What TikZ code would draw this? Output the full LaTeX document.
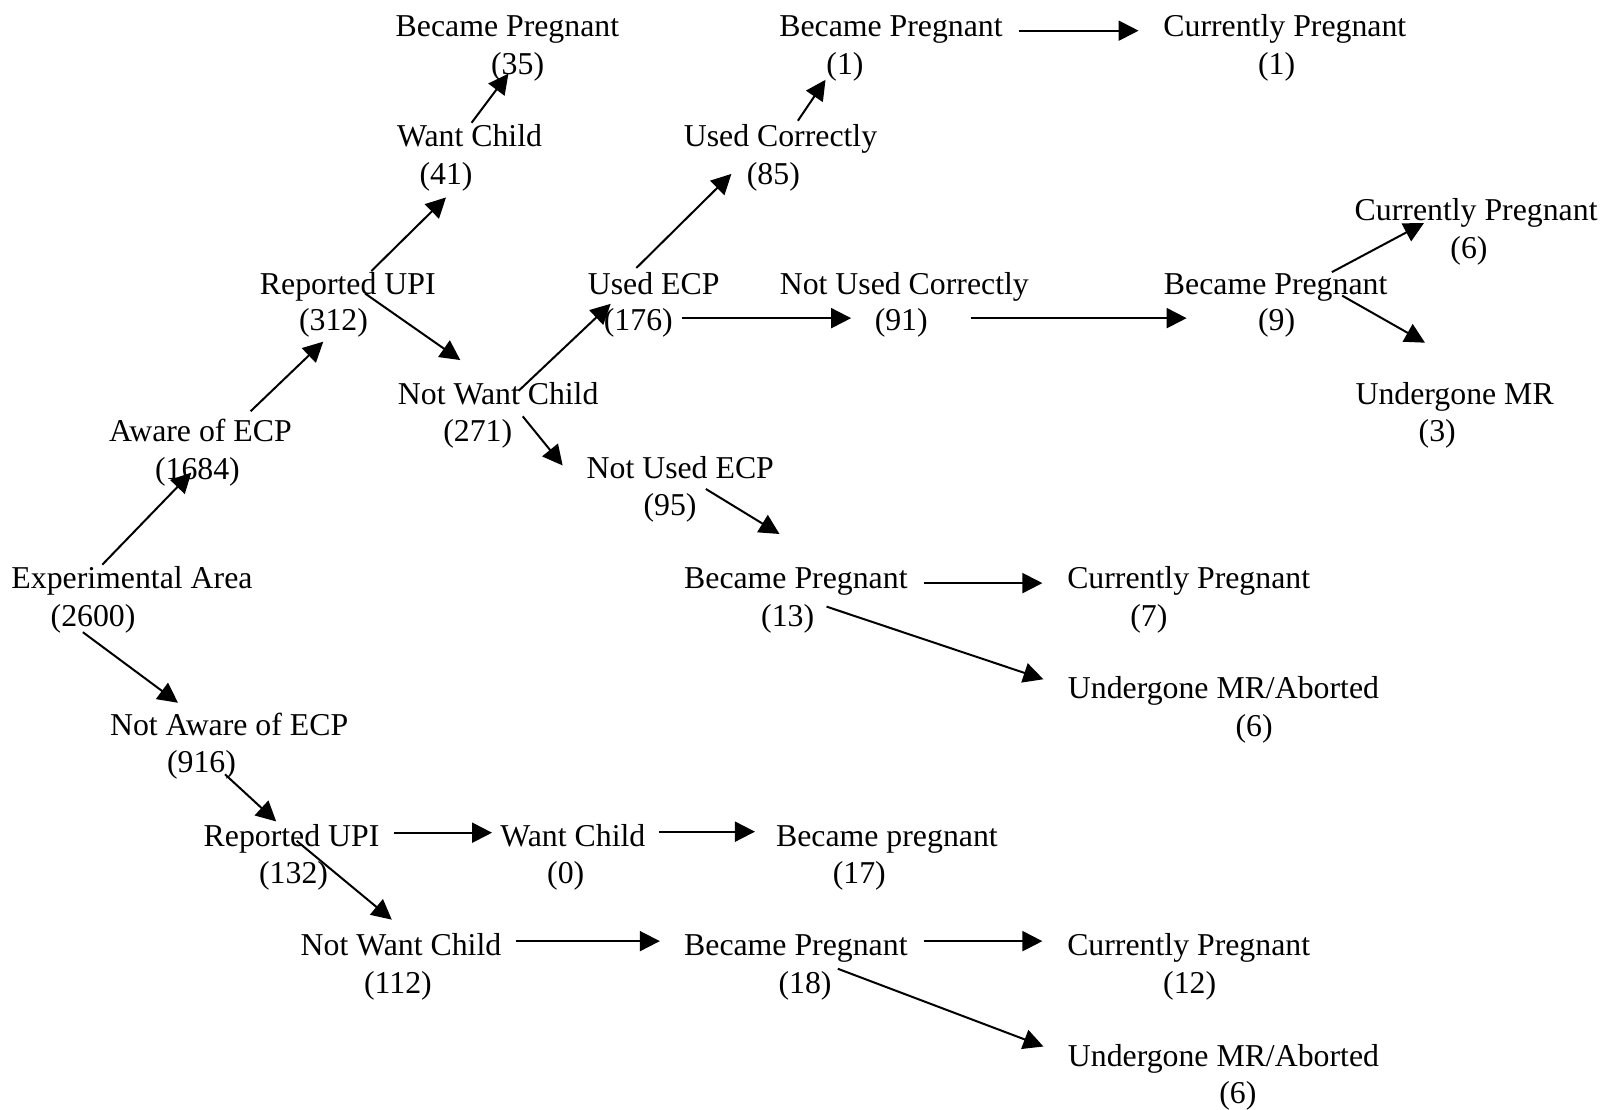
\documentclass[tikz,border=0pt]{standalone}
\usepackage{fontspec}
\setmainfont{Liberation Serif}
\usetikzlibrary{arrows.meta}
\begin{document}
\begin{tikzpicture}[x=0.5115pt,y=-0.5115pt,
  lbl/.style={anchor=base,inner sep=0pt,font=\fontsize{15.9pt}{19pt}\selectfont},
  arr/.style={line width=1pt,-{Triangle[length=10pt,width=10pt]}}]
\useasboundingbox[fill=white] (0,0) rectangle (1568,1085);
% nodes
\node[lbl] (bp35) at (496,35.5) {Became Pregnant};
\node[lbl] (bp35n) at (506,72.5) {(35)};
\node[lbl] (wc41) at (459,143.5) {Want Child};
\node[lbl] (wc41n) at (436,180.5) {(41)};
\node[lbl] (ru312) at (340,287.5) {Reported UPI};
\node[lbl] (ru312n) at (326,323.5) {(312)};
\node[lbl] (aw) at (196,431.5) {Aware of ECP};
\node[lbl] (awn) at (193,468.5) {(1684)};
\node[lbl] (ea) at (129,575.5) {Experimental Area};
\node[lbl] (ean) at (91,612.5) {(2600)};
\node[lbl] (nwc271) at (487,395.5) {Not Want Child};
\node[lbl] (nwc271n) at (467,431.5) {(271)};
\node[lbl] (ue) at (639,287.5) {Used ECP};
\node[lbl] (uen) at (624,323.5) {(176)};
\node[lbl] (uc) at (763,143.5) {Used Correctly};
\node[lbl] (ucn) at (756,180.5) {(85)};
\node[lbl] (bp1) at (871,35.5) {Became Pregnant};
\node[lbl] (bp1n) at (826,72.5) {(1)};
\node[lbl] (cp1) at (1256,35.5) {Currently Pregnant};
\node[lbl] (cp1n) at (1248,72.5) {(1)};
\node[lbl] (nuc) at (884,287.5) {Not Used Correctly};
\node[lbl] (nucn) at (881,323.5) {(91)};
\node[lbl] (bp9) at (1247,287.5) {Became Pregnant};
\node[lbl] (bp9n) at (1248,323.5) {(9)};
\node[lbl] (cp6) at (1443,215.5) {Currently Pregnant};
\node[lbl] (cp6n) at (1436,252.5) {(6)};
\node[lbl] (um3) at (1422,395.5) {Undergone MR};
\node[lbl] (um3n) at (1405,431.5) {(3)};
\node[lbl] (nue) at (665,467.5) {Not Used ECP};
\node[lbl] (nuen) at (655,503.5) {(95)};
\node[lbl] (bp13) at (778,575.5) {Became Pregnant};
\node[lbl] (bp13n) at (770,612.5) {(13)};
\node[lbl] (cp7) at (1162,575.5) {Currently Pregnant};
\node[lbl] (cp7n) at (1123,612.5) {(7)};
\node[lbl] (ma6a) at (1196,682.5) {Undergone MR/Aborted};
\node[lbl] (ma6an) at (1226,719.5) {(6)};
\node[lbl] (naw) at (224,718.5) {Not Aware of ECP};
\node[lbl] (nawn) at (197,755.5) {(916)};
\node[lbl] (ru132) at (285,827.5) {Reported UPI};
\node[lbl] (ru132n) at (287,863.5) {(132)};
\node[lbl] (wc0) at (560,827.5) {Want Child};
\node[lbl] (wc0n) at (553,863.5) {(0)};
\node[lbl] (bp17) at (867,827.5) {Became pregnant};
\node[lbl] (bp17n) at (840,863.5) {(17)};
\node[lbl] (nwc112) at (392,934.5) {Not Want Child};
\node[lbl] (nwc112n) at (389,971.5) {(112)};
\node[lbl] (bp18) at (778,934.5) {Became Pregnant};
\node[lbl] (bp18n) at (787,971.5) {(18)};
\node[lbl] (cp12) at (1162,934.5) {Currently Pregnant};
\node[lbl] (cp12n) at (1163,971.5) {(12)};
\node[lbl] (ma6b) at (1196,1042.5) {Undergone MR/Aborted};
\node[lbl] (ma6bn) at (1210,1078.5) {(6)};
% connectors
\draw[arr] ([shift={(-29,-23.5)}]ea.base) -- ([shift={(-6,-6.5)}]awn.base);
\draw[arr] ([shift={(49,-29.5)}]aw.base) -- ([shift={(-10,10.5)}]ru312n.base);
\draw[arr] ([shift={(23,-22.5)}]ru312.base) -- ([shift={(0,12.5)}]wc41n.base);
\draw[arr] ([shift={(2,-23.5)}]wc41.base) -- ([shift={(-9,-0.5)}]bp35n.base);
\draw[arr] ([shift={(17,-0.5)}]ru312.base) -- ([shift={(-37,-43.5)}]nwc271.base);
\draw[arr] ([shift={(20,-13.5)}]nwc271.base) -- ([shift={(-42,9.5)}]ue.base);
\draw[arr] ([shift={(44,-24.5)}]nwc271n.base) -- ([shift={(-115,-12.5)}]nue.base);
\draw[arr] ([shift={(-17,-25.5)}]ue.base) -- ([shift={(-41,-10.5)}]ucn.base);
\draw[arr] ([shift={(17,-25.5)}]uc.base) -- ([shift={(-19,5.5)}]bp1n.base);
\draw[arr] ([shift={(125,-5.5)}]bp1.base) -- ([shift={(-143,-5.5)}]cp1.base);
\draw[arr] ([shift={(43,-12.5)}]uen.base) -- ([shift={(-49,-12.5)}]nucn.base);
\draw[arr] ([shift={(68,-12.5)}]nucn.base) -- ([shift={(-88,-12.5)}]bp9n.base);
\draw[arr] ([shift={(55,-21.5)}]bp9.base) -- ([shift={(-51,2.5)}]cp6.base);
\draw[arr] ([shift={(65,1.5)}]bp9.base) -- ([shift={(-29,-60.5)}]um3.base);
\draw[arr] ([shift={(35,-25.5)}]nuen.base) -- ([shift={(-16,-53.5)}]bp13.base);
\draw[arr] ([shift={(125,-5.5)}]bp13.base) -- ([shift={(-143,-5.5)}]cp7.base);
\draw[arr] ([shift={(38,-19.5)}]bp13n.base) -- ([shift={(-176,-18.5)}]ma6a.base);
\draw[arr] ([shift={(-10,5.5)}]ean.base) -- ([shift={(-50,-31.5)}]naw.base);
\draw[arr] ([shift={(23,1.5)}]nawn.base) -- ([shift={(-15,-24.5)}]ru132.base);
\draw[arr] ([shift={(100,-13.5)}]ru132.base) -- ([shift={(-79,-13.5)}]wc0.base);
\draw[arr] ([shift={(84,-14.5)}]wc0.base) -- ([shift={(-129,-14.5)}]bp17.base);
\draw[arr] ([shift={(5,-5.5)}]ru132.base) -- ([shift={(-9,-35.5)}]nwc112.base);
\draw[arr] ([shift={(112,-14.5)}]nwc112.base) -- ([shift={(-133,-14.5)}]bp18.base);
\draw[arr] ([shift={(125,-14.5)}]bp18.base) -- ([shift={(-143,-14.5)}]cp12.base);
\draw[arr] ([shift={(32,-24.5)}]bp18n.base) -- ([shift={(-176,-19.5)}]ma6b.base);
\end{tikzpicture}
\end{document}
